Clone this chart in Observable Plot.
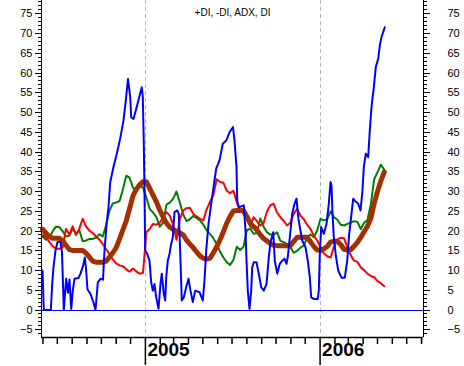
<!DOCTYPE html>
<html><head><meta charset="utf-8">
<script src="https://cdn.jsdelivr.net/npm/d3@7"></script>
<script src="https://cdn.jsdelivr.net/npm/@observablehq/plot@0.6"></script>
<style>body{margin:0;background:#fff}#chart svg{display:block}</style>
</head><body><div id="chart"></div>
<script>
const titleText = "+DI, -DI, ADX, DI";
const startDate = "2004-05-31"; // first weekly point
const yearTickDates = ["2005-01-01", "2006-01-01"];
const yTickValues = [-5,0,5,10,15,20,25,30,35,40,45,50,55,60,65,70,75];

// weekly series (one value per week from startDate)
const plusDI = [18.6,17.8,18.3,19.9,21.1,21.0,20.0,18.6,18.8,20.6,
19.3,20.2,17.4,17.6,18.0,18.0,18.3,19.2,18.6,21.6,
25.2,27.0,27.2,27.6,30.5,34.0,33.5,31.0,30.0,31.4,
31.0,28.5,25.6,24.7,23.5,21.1,22.1,26.7,27.2,28.2,
30.0,27.2,24.2,22.5,23.0,23.8,23.3,22.7,21.6,20.2,
19.2,18.2,16.7,14.8,13.3,12.1,11.4,12.7,16.0,15.2,
16.0,20.2,20.6,19.3,19.5,23.2,21.1,19.7,19.1,19.1,
19.7,17.5,17.2,16.7,15.9,14.5,15.0,15.8,16.3,18.3,
19.1,18.4,20.2,23.1,22.7,23.0,25.0,23.5,22.9,21.6,
21.4,21.8,22.1,22.5,22.3,20.5,22.1,22.8,26.7,33.1,
34.9,36.8,35.5];
const minusDI = [19.1,18.3,17.3,16.2,15.5,15.5,15.8,20.5,19.1,21.2,
19.0,20.6,23.1,21.2,20.1,19.5,18.6,17.8,16.7,15.4,
14.1,12.8,11.8,11.3,11.1,10.3,9.7,10.5,9.8,9.2,
9.4,19.7,20.5,21.8,21.6,22.1,23.5,24.8,23.9,21.6,
17.8,23.0,25.2,25.8,25.9,24.4,23.7,23.1,22.7,25.5,
27.4,29.1,33.1,32.4,32.2,30.2,29.6,30.2,27.2,25.3,
24.4,23.0,21.1,23.5,22.5,21.4,22.1,24.9,26.5,26.9,
24.7,23.5,22.6,21.4,22.1,24.4,25.6,23.9,23.0,21.6,
20.5,18.8,17.6,15.9,14.3,13.6,13.3,16.0,17.8,18.3,
18.2,16.0,13.9,12.5,12.2,10.8,10.1,9.2,8.6,8.3,
7.3,6.8,6.0];
const adx = [20.5,19.5,18.6,18.2,18.2,18.2,17.5,16.4,15.3,15.1,
15.1,15.1,15.1,14.4,13.4,12.4,12.1,12.1,12.1,12.4,
13.4,14.5,15.8,18.0,20.3,22.6,25.7,28.9,30.6,31.7,
32.5,32.5,30.8,29.1,27.4,25.3,23.6,22.0,21.0,20.4,
19.9,19.5,19.0,17.7,16.7,15.8,14.7,13.7,13.1,12.9,
13.1,14.5,16.0,17.8,19.8,22.0,23.7,25.1,25.2,25.2,
25.2,23.7,22.0,21.1,20.3,19.1,18.1,17.5,16.8,16.4,
16.3,16.3,16.3,16.3,16.3,17.4,18.4,18.4,18.4,18.4,
17.3,16.1,15.2,15.1,15.5,16.1,17.2,17.4,17.4,16.6,
15.4,15.2,15.3,16.1,17.1,18.4,19.8,21.2,23.2,27.0,
30.0,32.7,34.9];

// DI (blue) at its own positions, in weeks after startDate
const diWeeks = [0,0.39,2.48,2.9,3.28,3.88,4.48,5.37,5.82,6.36,
7.07,7.61,8.06,8.57,9.04,9.55,10.75,11.34,12.15,12.63,
12.99,13.43,14.33,15.22,15.82,16.51,17.31,18.06,18.51,19.19,
19.7,20.21,21.19,22.18,23.19,24.18,24.87,25.52,26.18,26.48,
27.16,27.85,28.45,29.25,29.64,29.94,30.24,30.45,30.66,31.25,
31.94,32.45,32.93,33.43,33.94,34.63,35.22,35.61,36.21,36.63,
36.93,37.4,37.91,38.42,38.9,39.4,40.21,40.69,41.19,41.58,
42.18,42.9,43.58,44.18,44.87,45.58,46.87,47.85,48.36,48.87,
49.55,50.36,51.34,51.85,52.84,53.82,54.84,55.82,56.87,57.31,
57.91,58.12,58.6,60.09,60.6,60.9,61.28,61.79,62.3,62.6,
63.07,63.88,64.57,65.28,66.06,66.87,67.55,68.06,68.87,69.34,
70.06,70.84,71.55,72.24,72.84,73.22,73.82,74.54,75.22,75.82,
76.33,76.81,77.52,78.51,79.19,79.79,80.21,80.99,82.18,82.48,
82.78,83.19,83.97,84.78,85.46,85.97,86.27,86.57,86.96,87.55,
88.27,89.25,90.24,90.96,91.55,92.24,92.75,93.22,94.24,94.93,
95.52,95.91,96.51,97.22,97.7,98.21,98.9,99.49,100.21,100.69,
101.19,102.18];
const diValues = [10.0,0,0,6.6,10.8,15.1,17.2,17.2,14.6,0,
7.9,4.4,7.7,0.3,4.9,7.9,8.1,9.2,11.3,13.3,
10.5,5.2,4.1,1.9,0,7.0,7.9,7.7,15.1,22.2,
26.0,32.3,36.2,39.6,43.4,48.0,53.1,58.5,53.9,48.8,
48.4,50.5,52.5,55.2,56.4,53.9,42.1,29.4,15.1,14.2,
12.5,7.0,4.9,6.6,3.2,0.3,6.6,9.2,4.1,2.4,
8.3,12.5,14.2,16.8,18.4,24.8,25.2,24.4,12.5,2.4,
3.2,5.8,7.9,4.9,2.0,4.9,4.5,2.4,7.5,15.1,
21.8,26.9,32.8,35.8,37.9,42.1,42.9,45.0,46.3,42.9,
36.2,27.7,26.0,26.5,20.1,12.5,4.9,0.3,4.9,10.8,
12.1,12.1,9.2,5.8,4.9,6.6,13.4,17.2,19.7,12.5,
9.2,11.7,12.5,13.0,11.7,13.4,18.4,24.4,26.9,28.2,
23.5,21.0,17.6,15.9,12.5,8.3,3.2,2.8,2.8,4.9,
14.2,21.0,19.3,21.8,26.9,32.4,31.5,24.4,18.4,13.8,
10.0,8.2,8.2,12.5,19.3,24.4,28.2,27.7,26.9,25.2,
30.3,36.2,39.6,38.7,45.5,51.4,56.4,61.5,63.6,67.0,
69.1,71.6];

const DAY = 864e5;
const t0 = new Date(startDate + "T00:00:00Z").getTime();
const weekly = arr => arr.map((v, i) => ({date: new Date(t0 + i * 7 * DAY), value: v}));
const diData = diWeeks.map((w, i) => ({date: new Date(t0 + w * 7 * DAY), value: diValues[i]}));

const xDomain = [new Date(t0 - 2.09 * DAY), new Date(t0 + 796.1 * DAY)];
const yDomain = [-6.96, 78.37];
const yearTicks = yearTickDates.map(s => new Date(s + "T00:00:00Z"));
const monthTicks = d3.utcMonth.range(xDomain[0], xDomain[1]).filter(d => d.getUTCMonth() !== 0);
const minorY = d3.range(-6, 79);

const font = "'Liberation Sans', Arial, sans-serif";
const crisp = {shapeRendering: "crispEdges"};
const chart = Plot.plot({
  width: 464, height: 366,
  marginLeft: 41, marginRight: 41, marginTop: 0, marginBottom: 29,
  style: {fontFamily: font, background: "#fff", color: "#000"},
  x: {type: "utc", domain: xDomain, axis: null},
  y: {domain: yDomain, axis: null, label: null},
  marks: [
    Plot.ruleX(yearTicks, {stroke: "#b8b8b8", strokeDasharray: "4,3", ...crisp}),
    Plot.ruleY([0], {stroke: "#0000ff", strokeWidth: 1, ...crisp}),
    Plot.line(weekly(plusDI), {x: "date", y: "value", stroke: "#008000", strokeWidth: 2}),
    Plot.line(weekly(minusDI), {x: "date", y: "value", stroke: "#ff0000", strokeWidth: 2}),
    Plot.line(weekly(adx), {x: "date", y: "value", stroke: "#a33100", strokeWidth: 5}),
    Plot.line(diData, {x: "date", y: "value", stroke: "#0000ff", strokeWidth: 2}),
    Plot.axisY({anchor: "left", ticks: minorY, tickSize: 3, tickFormat: () => "", label: null, ...crisp}),
    Plot.axisY({anchor: "left", ticks: yTickValues, tickSize: 6, tickPadding: 3, fontSize: 11, label: null, ...crisp}),
    Plot.axisY({anchor: "right", ticks: minorY, tickSize: 3, tickFormat: () => "", label: null, ...crisp}),
    Plot.axisY({anchor: "right", ticks: yTickValues, tickSize: 6, tickPadding: 18, fontSize: 11, label: null, ...crisp}),
    Plot.axisX({anchor: "bottom", ticks: monthTicks, tickSize: 7, tickFormat: () => "", strokeWidth: 1.5, label: null}),
    Plot.axisX({anchor: "bottom", ticks: yearTicks, tickSize: 28, tickFormat: () => "", strokeWidth: 1.5, label: null}),
    Plot.text(yearTicks, {x: d => d, text: d => String(d.getUTCFullYear()), frameAnchor: "bottom",
      dy: 18, dx: 2, textAnchor: "start", fontSize: 19, fontWeight: "bold"}),
    Plot.ruleX(xDomain, {stroke: "#000", ...crisp}),
    Plot.ruleY([yDomain[0]], {stroke: "#000", strokeWidth: 1.5}),
    Plot.text([titleText], {frameAnchor: "top", dy: 8, fontSize: 10})
  ]
});
document.getElementById("chart").appendChild(chart);
</script>
</body></html>
